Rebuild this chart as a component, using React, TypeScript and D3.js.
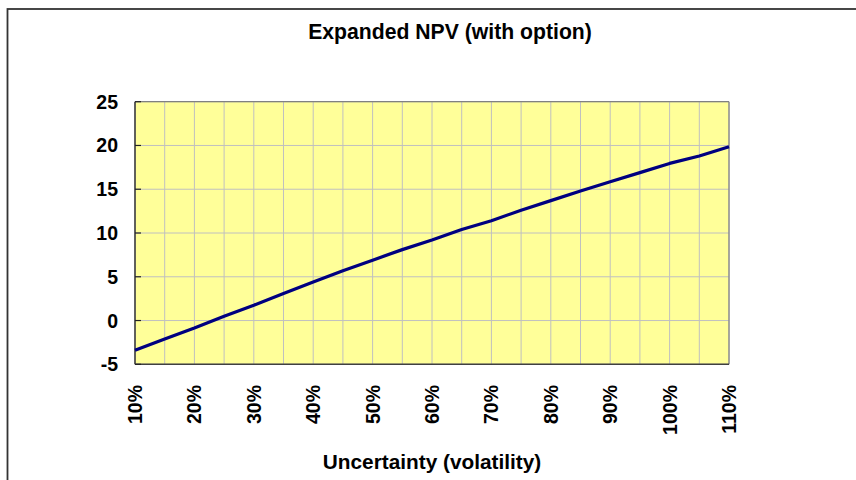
import React from 'react';
import * as d3 from 'd3';

const categories: string[] = ['10%', '15%', '20%', '25%', '30%', '35%', '40%', '45%', '50%', '55%', '60%', '65%', '70%', '75%', '80%', '85%', '90%', '95%', '100%', '105%', '110%'];
const npvValues: number[] = [-3.4, -2.1, -0.85, 0.5, 1.75, 3.1, 4.4, 5.7, 6.9, 8.1, 9.2, 10.4, 11.4, 12.6, 13.7, 14.8, 15.85, 16.9, 17.95, 18.8, 19.85];
const xTickLabels: string[] = ['10%', '20%', '30%', '40%', '50%', '60%', '70%', '80%', '90%', '100%', '110%'];
const yTicks: number[] = [-5, 0, 5, 10, 15, 20, 25];
const chartTitle = 'Expanded NPV (with option)';
const xAxisTitle = 'Uncertainty (volatility)';

const FONT = '"Liberation Sans", Arial, Helvetica, sans-serif';

export default function App() {
  const W = 856;
  const H = 480;
  const plot = { left: 135, top: 101.7, right: 729, bottom: 364.3 };

  const x = d3.scalePoint<string>().domain(categories).range([plot.left, plot.right]);
  const y = d3.scaleLinear().domain([-5, 25]).range([plot.bottom, plot.top]);

  const lineGen = d3
    .line<number>()
    .x((_, i) => x(categories[i]) as number)
    .y((d) => y(d));

  React.useEffect(() => {
    document.body.style.margin = '0';
  }, []);

  return (
    <svg
      width={W}
      height={H}
      style={{ position: 'absolute', left: 0, top: 0, background: '#fff' }}
      fontFamily={FONT}
    >
      <rect x={0} y={0} width={W} height={H} fill="#ffffff" />
      {/* outer chart border */}
      <rect x={7.5} y={9} width={W + 40} height={H + 40} fill="none" stroke="#333" strokeWidth={1.8} />

      {/* title */}
      <text x={450} y={38.5} textAnchor="middle" fontSize={21.2} fontWeight="bold" fill="#000">
        {chartTitle}
      </text>

      {/* plot background */}
      <rect
        x={plot.left}
        y={plot.top}
        width={plot.right - plot.left}
        height={plot.bottom - plot.top}
        fill="#FFFF99"
      />

      {/* vertical gridlines */}
      {categories.map((c) => (
        <line
          key={'vx' + c}
          x1={x(c)}
          x2={x(c)}
          y1={plot.top}
          y2={plot.bottom}
          stroke="#C0C0C0"
          strokeWidth={1}
        />
      ))}
      {/* horizontal gridlines */}
      {yTicks.map((t) => (
        <line
          key={'hy' + t}
          x1={plot.left}
          x2={plot.right}
          y1={y(t)}
          y2={y(t)}
          stroke="#C0C0C0"
          strokeWidth={1}
        />
      ))}

      {/* plot border top/right */}
      <line x1={plot.left} x2={plot.right} y1={plot.top} y2={plot.top} stroke="#808080" strokeWidth={1.2} />
      <line x1={plot.right} x2={plot.right} y1={plot.top} y2={plot.bottom} stroke="#808080" strokeWidth={1.2} />

      {/* axes */}
      <line x1={plot.left} x2={plot.left} y1={plot.top} y2={plot.bottom} stroke="#404040" strokeWidth={1.6} />
      <line x1={plot.left} x2={plot.right} y1={plot.bottom} y2={plot.bottom} stroke="#404040" strokeWidth={1.6} />

      {/* y ticks */}
      {yTicks.map((t) => (
        <g key={'yt' + t}>
          <line x1={plot.left} x2={plot.left + 6} y1={y(t)} y2={y(t)} stroke="#222" strokeWidth={1.2} />
          <text
            x={118}
            y={y(t)}
            dy="0.36em"
            textAnchor="end"
            fontSize={19.5}
            fontWeight="bold"
            fill="#000"
          >
            {t}
          </text>
        </g>
      ))}

      {/* x tick labels */}
      {xTickLabels.map((l) => (
        <text
          key={'xl' + l}
          transform={`translate(${x(l)},385) rotate(-90)`}
          dy="0.36em"
          textAnchor="end"
          fontSize={19.5}
          fontWeight="bold"
          fill="#000"
        >
          {l}
        </text>
      ))}

      {/* data line */}
      <path d={lineGen(npvValues) || ''} fill="none" stroke="#000080" strokeWidth={3.2} strokeLinejoin="round" />

      {/* x axis title */}
      <text x={432} y={469} textAnchor="middle" fontSize={20.8} fontWeight="bold" fill="#000">
        {xAxisTitle}
      </text>
    </svg>
  );
}
